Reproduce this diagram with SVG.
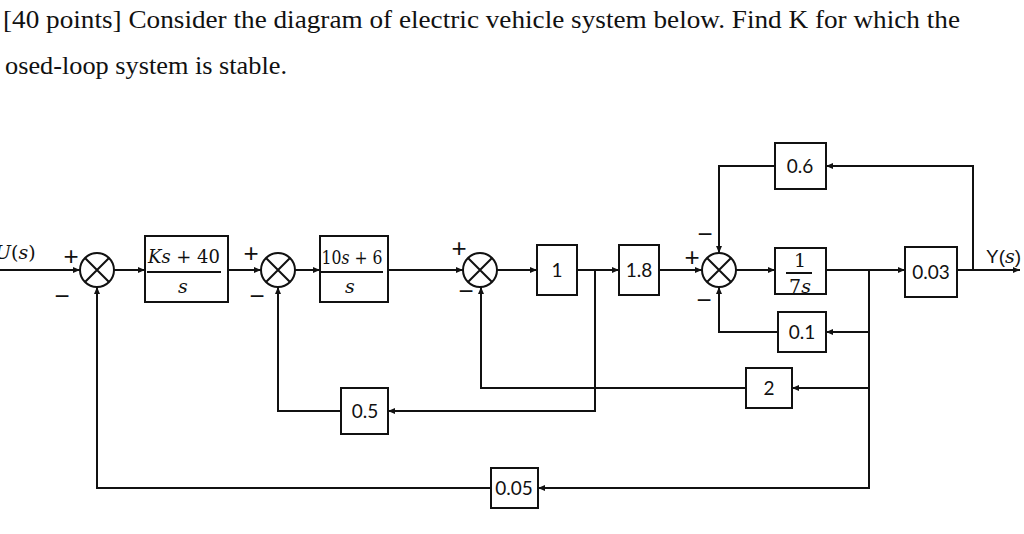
<svg xmlns="http://www.w3.org/2000/svg" width="1024" height="534" viewBox="0 0 1024 534">
<defs>
<marker id="arr" markerUnits="userSpaceOnUse" markerWidth="8" markerHeight="7" refX="7" refY="3" orient="auto">
<path d="M0,0 L7,3 L0,6 z" fill="#111"/>
</marker>
<clipPath id="clip7"><rect x="775" y="248" width="51" height="46"/></clipPath>
<style>
.w{stroke:#111;stroke-width:2;fill:none}
.c{stroke:#111;stroke-width:2;fill:none;marker-end:url(#arr)}
.b{stroke:#111;stroke-width:2;fill:#fff}
.t{font-family:"Liberation Serif","Times New Roman",serif;font-size:26px;fill:#111}
.n{font-family:Lato,"Liberation Sans",sans-serif;font-size:19px;fill:#111;text-anchor:middle}
.m{font-family:"DejaVu Serif","Liberation Serif",serif;font-size:19px;fill:#111;text-anchor:middle}
.s{font-family:"Liberation Sans",sans-serif;font-size:26px;fill:#111;text-anchor:middle}
</style>
</defs>
<rect width="1024" height="534" fill="#fff"/>
<text class="t" x="3" y="28" textLength="957" lengthAdjust="spacingAndGlyphs">[40 points] Consider the diagram of electric vehicle system below.  Find K for which the</text>
<text class="t" x="5" y="74" textLength="282" lengthAdjust="spacingAndGlyphs">osed-loop system is stable.</text>

<g id="connectors">
<path class="c" d="M0,270 H80"/>
<path class="c" d="M114,270 H145"/>
<path class="c" d="M228,270 H261"/>
<path class="c" d="M295,270 H320"/>
<path class="c" d="M388,270 H463"/>
<path class="c" d="M497,270 H537"/>
<path class="c" d="M577,270 H619"/>
<path class="c" d="M659,270 H702"/>
<path class="c" d="M736,270 H775"/>
<path class="c" d="M826,270 H905"/>
<path class="c" d="M957,270 H1020"/>
<path class="c" d="M973,270 V166 H826"/>
<path class="c" d="M775,166 H719 V253"/>
<path class="c" d="M869,270 V488 H538"/>
<path class="c" d="M869,332 H826"/>
<path class="c" d="M778,332 H719 V287"/>
<path class="c" d="M869,388 H792"/>
<path class="c" d="M746,388 H481 V287"/>
<path class="c" d="M595,270 V411 H388"/>
<path class="c" d="M341,411 H278 V287"/>
<path class="c" d="M491,488 H97 V287"/>
</g>

<g id="label-u"><text class="m" x="-5" y="259" style="text-anchor:start;font-style:italic">U<tspan font-style="normal">(</tspan>s<tspan font-style="normal">)</tspan></text></g>
<g id="label-y"><text x="986" y="263" style="font-family:'Liberation Sans',sans-serif;font-size:19px;fill:#111">Y(<tspan font-family="DejaVu Serif" font-style="italic">s</tspan>)</text></g>

<g id="sum1">
<circle class="b" cx="97" cy="270" r="17"/>
<path class="w" d="M85,258 L109,282 M109,258 L85,282"/>
<text class="s" x="71" y="265">+</text>
<text class="s" x="62" y="305">−</text>
</g>
<g id="sum2">
<circle class="b" cx="278" cy="270" r="17"/>
<path class="w" d="M266,258 L290,282 M290,258 L266,282"/>
<text class="s" x="251" y="262">+</text>
<text class="s" x="257" y="305">−</text>
</g>
<g id="sum3">
<circle class="b" cx="480" cy="270" r="17"/>
<path class="w" d="M468,258 L492,282 M492,258 L468,282"/>
<text class="s" x="459" y="257">+</text>
<text class="s" x="466" y="300">−</text>
</g>
<g id="sum4">
<circle class="b" cx="719" cy="270" r="17"/>
<path class="w" d="M707,258 L731,282 M731,258 L707,282"/>
<text class="s" x="692" y="266">+</text>
<text class="s" x="705" y="243">−</text>
<text class="s" x="704" y="309">−</text>
</g>

<g id="box-ks40">
<rect class="b" x="145" y="236" width="83" height="66"/>
<line class="w" x1="147" y1="272" x2="221" y2="272"/>
<text class="m" x="184" y="263" textLength="72" lengthAdjust="spacingAndGlyphs"><tspan font-style="italic">Ks</tspan> + 40</text>
<text class="m" x="183" y="293" font-style="italic">s</text>
</g>
<g id="box-10s6">
<rect class="b" x="320" y="236" width="68" height="66"/>
<line class="w" x1="321" y1="272" x2="383" y2="272"/>
<text class="m" x="352" y="264" textLength="61" lengthAdjust="spacingAndGlyphs">10<tspan font-style="italic">s</tspan> + 6</text>
<text class="m" x="350" y="293" font-style="italic">s</text>
</g>
<g id="box-1">
<rect class="b" x="537" y="245" width="40" height="50"/>
<text class="n" x="557" y="277">1</text>
</g>
<g id="box-18">
<rect class="b" x="619" y="245" width="40" height="50"/>
<text class="n" x="639" y="277">1.8</text>
</g>
<g id="box-7s">
<rect class="b" x="775" y="248" width="51" height="46"/>
<line class="w" x1="786" y1="273" x2="812" y2="273"/>
<text class="m" x="800" y="267" font-size="17">1</text>
<text class="m" x="800" y="293" font-size="17" clip-path="url(#clip7)">7<tspan font-style="italic">s</tspan></text>
</g>
<g id="box-003">
<rect class="b" x="905" y="247" width="52" height="50"/>
<text class="n" x="931" y="279">0.03</text>
</g>
<g id="box-06">
<rect class="b" x="775" y="143" width="51" height="46"/>
<text class="n" x="800" y="173">0.6</text>
</g>
<g id="box-01">
<rect class="b" x="778" y="312" width="48" height="40"/>
<text class="n" x="802" y="339">0.1</text>
</g>
<g id="box-2">
<rect class="b" x="746" y="368" width="46" height="40"/>
<text class="n" x="769" y="395">2</text>
</g>
<g id="box-05">
<rect class="b" x="341" y="388" width="47" height="46"/>
<text class="n" x="365" y="418">0.5</text>
</g>
<g id="box-005">
<rect class="b" x="491" y="468" width="47" height="40"/>
<text class="n" x="514" y="495" font-size="20">0.05</text>
</g>
</svg>
